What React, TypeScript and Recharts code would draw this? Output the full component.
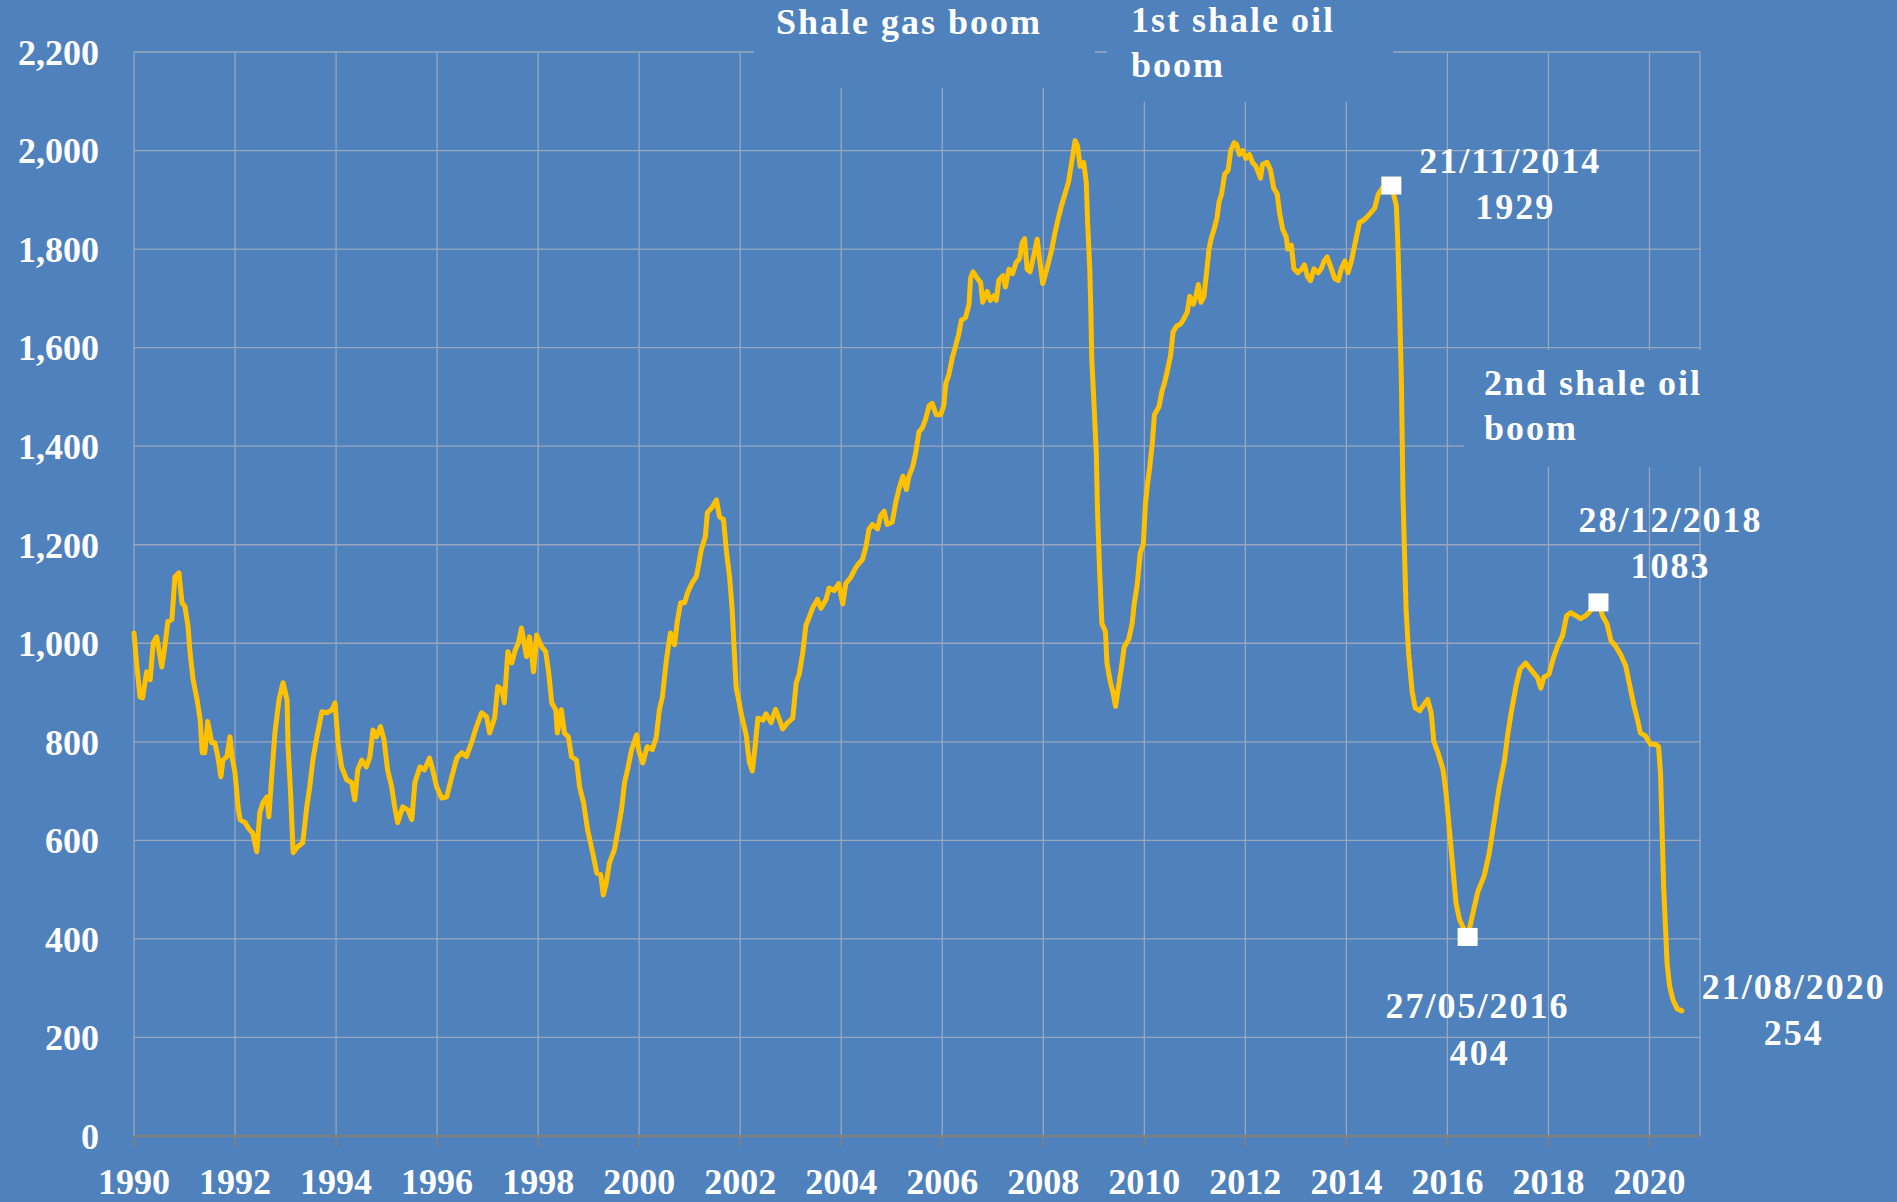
import { ComposedChart, Line, Scatter, XAxis, YAxis, CartesianGrid } from 'recharts';

// US rig count (weekly), one row per calendar year
const weekYear = [
  1990.0, 1990.06, 1990.12, 1990.17, 1990.25, 1990.32, 1990.38, 1990.45, 1990.55, 1990.61, 1990.67, 1990.75, 1990.81, 1990.89, 1990.95,
  1991.01, 1991.07, 1991.11, 1991.17, 1991.25, 1991.31, 1991.35, 1991.4, 1991.46, 1991.54, 1991.6, 1991.66, 1991.72, 1991.76, 1991.84, 1991.9, 1991.94,
  1992.0, 1992.06, 1992.1, 1992.2, 1992.29, 1992.35, 1992.43, 1992.49, 1992.55, 1992.63, 1992.67, 1992.73, 1992.79, 1992.87, 1992.95,
  1993.03, 1993.05, 1993.1, 1993.15, 1993.24, 1993.34, 1993.42, 1993.48, 1993.54, 1993.62, 1993.72, 1993.82, 1993.92, 1993.98,
  1994.04, 1994.11, 1994.21, 1994.31, 1994.37, 1994.43, 1994.51, 1994.6, 1994.67, 1994.73, 1994.8, 1994.88, 1994.95,
  1995.02, 1995.1, 1995.16, 1995.22, 1995.32, 1995.42, 1995.5, 1995.56, 1995.66, 1995.75, 1995.85, 1995.92, 1995.99,
  1996.09, 1996.19, 1996.29, 1996.39, 1996.49, 1996.58, 1996.68, 1996.78, 1996.88, 1996.98,
  1997.04, 1997.14, 1997.2, 1997.28, 1997.33, 1997.4, 1997.48, 1997.55, 1997.61, 1997.67, 1997.77, 1997.83, 1997.91, 1997.97,
  1998.07, 1998.15, 1998.21, 1998.27, 1998.35, 1998.38, 1998.46, 1998.52, 1998.6, 1998.66, 1998.76, 1998.82, 1998.9, 1998.98,
  1999.08, 1999.16, 1999.24, 1999.29, 1999.35, 1999.41, 1999.51, 1999.57, 1999.65, 1999.71, 1999.77, 1999.85, 1999.95, 1999.99,
  2000.07, 2000.16, 2000.26, 2000.34, 2000.4, 2000.46, 2000.54, 2000.62, 2000.7, 2000.76, 2000.82, 2000.9, 2000.96,
  2001.05, 2001.13, 2001.17, 2001.23, 2001.31, 2001.35, 2001.45, 2001.53, 2001.59, 2001.67, 2001.73, 2001.79, 2001.84, 2001.92, 2001.98,
  2002.02, 2002.12, 2002.18, 2002.24, 2002.3, 2002.35, 2002.45, 2002.51, 2002.61, 2002.7, 2002.78, 2002.84, 2002.94,
  2003.04, 2003.11, 2003.17, 2003.24, 2003.3, 2003.37, 2003.43, 2003.53, 2003.6, 2003.7, 2003.76, 2003.86, 2003.95,
  2004.03, 2004.09, 2004.19, 2004.28, 2004.34, 2004.42, 2004.49, 2004.55, 2004.62, 2004.72, 2004.78, 2004.85, 2004.91,
  2005.01, 2005.08, 2005.14, 2005.22, 2005.29, 2005.34, 2005.41, 2005.47, 2005.54, 2005.61, 2005.67, 2005.74, 2005.8, 2005.88, 2005.97,
  2006.03, 2006.07, 2006.13, 2006.2, 2006.25, 2006.32, 2006.38, 2006.46, 2006.53, 2006.56, 2006.61, 2006.69, 2006.76, 2006.8, 2006.89, 2006.95,
  2007.02, 2007.07, 2007.12, 2007.2, 2007.25, 2007.32, 2007.39, 2007.46, 2007.53, 2007.58, 2007.63, 2007.68, 2007.74, 2007.81, 2007.88, 2007.93, 2007.99,
  2008.07, 2008.17, 2008.23, 2008.3, 2008.36, 2008.43, 2008.5, 2008.56, 2008.63, 2008.68, 2008.73, 2008.8, 2008.85, 2008.88, 2008.92, 2008.94, 2008.96,
  2009.01, 2009.05, 2009.07, 2009.11, 2009.16, 2009.23, 2009.26, 2009.33, 2009.39, 2009.43, 2009.49, 2009.56, 2009.6, 2009.69, 2009.76, 2009.8, 2009.86, 2009.92, 2009.98,
  2010.02, 2010.06, 2010.11, 2010.16, 2010.2, 2010.29, 2010.35, 2010.4, 2010.47, 2010.52, 2010.57, 2010.64, 2010.72, 2010.79, 2010.85, 2010.9, 2010.97,
  2011.02, 2011.07, 2011.12, 2011.18, 2011.24, 2011.28, 2011.33, 2011.38, 2011.44, 2011.48, 2011.53, 2011.59, 2011.66, 2011.71, 2011.78, 2011.83, 2011.88, 2011.95,
  2012.01, 2012.08, 2012.14, 2012.21, 2012.3, 2012.34, 2012.43, 2012.5, 2012.56, 2012.63, 2012.68, 2012.74, 2012.81, 2012.84, 2012.91, 2012.96,
  2013.04, 2013.12, 2013.17, 2013.23, 2013.29, 2013.36, 2013.44, 2013.5, 2013.56, 2013.62, 2013.69, 2013.77, 2013.84, 2013.9, 2013.97,
  2014.03, 2014.1, 2014.16, 2014.26, 2014.36, 2014.46, 2014.56, 2014.63, 2014.72, 2014.89, 2014.99,
  2015.02, 2015.05, 2015.09, 2015.12, 2015.15, 2015.18, 2015.23, 2015.3, 2015.36, 2015.45, 2015.53, 2015.61, 2015.68, 2015.73, 2015.81, 2015.91, 2015.97,
  2016.04, 2016.11, 2016.17, 2016.24, 2016.4, 2016.5, 2016.6, 2016.73, 2016.83, 2016.93,
  2017.03, 2017.13, 2017.19, 2017.26, 2017.36, 2017.44, 2017.55, 2017.68, 2017.78, 2017.85, 2017.91,
  2018.01, 2018.1, 2018.18, 2018.28, 2018.36, 2018.44, 2018.54, 2018.64, 2018.74, 2018.84, 2018.99,
  2019.07, 2019.16, 2019.24, 2019.33, 2019.43, 2019.53, 2019.61, 2019.69, 2019.76, 2019.82, 2019.92,
  2020.02, 2020.12, 2020.18, 2020.22, 2020.25, 2020.28, 2020.32, 2020.35, 2020.4, 2020.47, 2020.55, 2020.64,
];

const rigCount = [
  1021, 950, 891, 889, 942, 926, 1001, 1013, 952, 993, 1044, 1048, 1135, 1143, 1082,
  1074, 1034, 981, 926, 885, 845, 778, 778, 841, 798, 798, 770, 729, 763, 770, 810, 770,
  737, 668, 642, 636, 621, 615, 577, 656, 676, 688, 648, 737, 818, 885, 920,
  885, 790, 696, 575, 587, 595, 668, 709, 763, 810, 861, 859, 865, 879,
  798, 749, 723, 717, 682, 743, 763, 749, 770, 824, 810, 831, 804,
  743, 709, 668, 636, 668, 662, 642, 717, 749, 743, 767, 740, 709,
  686, 688, 729, 767, 778, 770, 798, 831, 859, 851,
  818, 849, 912, 906, 879, 983, 960, 987, 1001, 1031, 973, 1013, 942, 1017,
  993, 983, 940, 879, 865, 818, 865, 818, 810, 770, 763, 709, 676, 621,
  575, 534, 530, 489, 514, 554, 581, 615, 662, 717, 743, 784, 814, 784,
  757, 790, 784, 810, 865, 891, 967, 1021, 997, 1048, 1082, 1082, 1103,
  1123, 1135, 1155, 1190, 1216, 1265, 1277, 1291, 1257, 1251, 1184, 1135, 1070, 910, 880,
  857, 813, 759, 741, 795, 848, 844, 857, 839, 866, 844, 826, 839,
  848, 920, 938, 982, 1036, 1054, 1071, 1089, 1071, 1089, 1112, 1107, 1121,
  1080, 1121, 1134, 1152, 1161, 1170, 1196, 1232, 1241, 1232, 1259, 1268, 1241,
  1246, 1286, 1312, 1339, 1312, 1339, 1357, 1384, 1429, 1438, 1455, 1482, 1487, 1464, 1464,
  1482, 1527, 1545, 1580, 1598, 1625, 1656, 1661, 1688, 1741, 1754, 1741, 1732, 1692, 1714, 1696,
  1705, 1696, 1737, 1746, 1723, 1759, 1750, 1772, 1781, 1812, 1821, 1759, 1754, 1786, 1820, 1776, 1730,
  1760, 1800, 1832, 1864, 1888, 1912, 1936, 1976, 2020, 2008, 1968, 1976, 1936, 1848, 1760, 1680, 1576,
  1472, 1384, 1280, 1160, 1040, 1024, 960, 920, 896, 872, 912, 960, 992, 1008, 1040, 1080, 1120, 1184, 1200,
  1280, 1320, 1360, 1408, 1464, 1480, 1512, 1528, 1560, 1584, 1632, 1644, 1648, 1660, 1672, 1704, 1688,
  1704, 1728, 1692, 1704, 1760, 1800, 1824, 1840, 1864, 1896, 1912, 1952, 1960, 2000, 2016, 2012, 1992, 2000,
  1984, 1992, 1976, 1968, 1944, 1972, 1976, 1960, 1924, 1912, 1872, 1840, 1824, 1800, 1808, 1760,
  1752, 1760, 1768, 1744, 1736, 1760, 1752, 1760, 1776, 1784, 1764, 1740, 1736, 1760, 1776,
  1752, 1776, 1806, 1854, 1860, 1871, 1883, 1911, 1925, 1929, 1888,
  1809, 1696, 1526, 1300, 1186, 1073, 982, 903, 869, 863, 875, 886, 858, 801, 779, 745, 699,
  620, 541, 473, 439, 404, 450, 495, 529, 575, 643,
  711, 762, 812, 858, 914, 948, 960, 943, 931, 909, 931,
  937, 971, 994, 1016, 1056, 1062, 1056, 1050, 1056, 1067, 1083,
  1056, 1039, 1005, 994, 977, 954, 914, 875, 846, 818, 812,
  795, 795, 790, 733, 620, 507, 416, 348, 303, 275, 258, 254,
];

const yearTicks = [1990, 1992, 1994, 1996, 1998, 2000, 2002, 2004, 2006, 2008, 2010, 2012, 2014, 2016, 2018, 2020];
const rigTicks = [0, 200, 400, 600, 800, 1000, 1200, 1400, 1600, 1800, 2000, 2200];

// highlighted points
const calloutYears = [2014.89, 2016.4, 2018.99, 2020.64];
const calloutValues = [1929, 404, 1083, 254];
const calloutDates = ['21/11/2014', '27/05/2016', '28/12/2018', '21/08/2020'];

// where each callout text sits relative to its point (px)
const CALLOUT_LAYOUT = [
  { square: true, dateDx: 119, dateDy: -25, valueDx: 124, valueDy: 21 },
  { square: true, dateDx: 10, dateDy: 69, valueDx: 12, valueDy: 116 },
  { square: true, dateDx: 72, dateDy: -82, valueDx: 72, valueDy: -36 },
  { square: false, dateDx: 112, dateDy: -24, valueDx: 112, valueDy: 22 },
];

const BG = '#4F81BD';
const LINE = '#FFC000';
const GRID = '#98A7BE';
const FONT = '"Liberation Serif", "Times New Roman", serif';
const FONT_SIZE = 36;

const rigData = weekYear.map((year, i) => ({ year, rigs: rigCount[i] }));
const calloutData = calloutYears.map((year, i) => ({
  year,
  rigs: calloutValues[i],
  date: calloutDates[i],
  idx: i,
}));

function CalloutShape(props: any) {
  const { cx, cy, payload } = props;
  const l = CALLOUT_LAYOUT[payload.idx];
  const textProps = {
    textAnchor: 'middle' as const,
    dominantBaseline: 'central' as const,
    fill: '#fff',
    fontFamily: FONT,
    fontSize: FONT_SIZE,
    fontWeight: 'bold',
    letterSpacing: 2,
  };
  return (
    <g>
      {l.square && <rect x={cx - 10} y={cy - 9} width={20} height={18} fill="#fff" />}
      <text x={cx + l.dateDx} y={cy + l.dateDy} {...textProps}>
        {payload.date}
      </text>
      <text x={cx + l.valueDx} y={cy + l.valueDy} {...textProps}>
        {payload.rigs}
      </text>
    </g>
  );
}

const boxText: React.CSSProperties = {
  position: 'absolute',
  background: BG,
  color: '#fff',
  fontFamily: FONT,
  fontSize: FONT_SIZE,
  fontWeight: 'bold',
  letterSpacing: 2,
  lineHeight: '45px',
  whiteSpace: 'nowrap',
  boxSizing: 'border-box',
};

export default function App() {
  return (
    <div
      style={{
        position: 'absolute',
        left: 0,
        top: 0,
        width: 1897,
        height: 1202,
        background: BG,
        overflow: 'hidden',
      }}
    >
      <ComposedChart
        width={1897}
        height={1202}
        data={rigData}
        margin={{ top: 52, right: 197, bottom: 0, left: 34 }}
      >
        <CartesianGrid stroke={GRID} strokeWidth={1.3} />
        <XAxis
          dataKey="year"
          type="number"
          domain={[1990, 2021]}
          ticks={yearTicks}
          interval={0}
          height={66}
          tickSize={11}
          tickMargin={21}
          axisLine={{ stroke: '#808080', strokeWidth: 2.5 }}
          tickLine={{ stroke: '#808080', strokeWidth: 1.5 }}
          tick={{ fill: '#fff', fontSize: FONT_SIZE, fontFamily: FONT, fontWeight: 'bold' }}
        />
        <YAxis
          type="number"
          domain={[0, 2200]}
          ticks={rigTicks}
          interval={0}
          width={100}
          axisLine={false}
          tickLine={false}
          tickSize={0}
          tickMargin={35}
          tickFormatter={(v: number) => v.toLocaleString('en-US')}
          tick={{ fill: '#fff', fontSize: FONT_SIZE, fontFamily: FONT, fontWeight: 'bold' }}
        />
        <Line
          type="linear"
          dataKey="rigs"
          stroke={LINE}
          strokeWidth={5}
          strokeLinejoin="round"
          strokeLinecap="round"
          dot={false}
          isAnimationActive={false}
        />
        <Scatter
          data={calloutData}
          dataKey="rigs"
          shape={CalloutShape}
          isAnimationActive={false}
        />
      </ComposedChart>

      {/* text boxes over the grid */}
      <div style={{ ...boxText, left: 754, top: 0, width: 341, height: 88, paddingLeft: 22 }}>
        Shale gas boom
      </div>
      <div style={{ ...boxText, left: 1107, top: 0, width: 286, height: 102, paddingLeft: 24 }}>
        <div style={{ marginTop: -2 }}>
          1st shale oil
          <br />
          boom
        </div>
      </div>
      <div style={{ ...boxText, left: 1464, top: 350, width: 245, height: 117, paddingLeft: 20 }}>
        <div style={{ marginTop: 11 }}>
          2nd shale oil
          <br />
          boom
        </div>
      </div>
    </div>
  );
}
